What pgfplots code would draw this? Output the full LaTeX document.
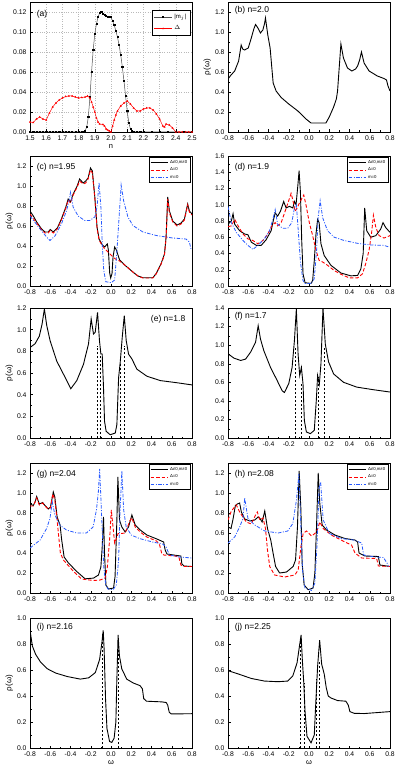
\documentclass[border=0pt]{standalone}
\usepackage{fontspec}
\setmainfont{Liberation Sans}
\usepackage{pgfplots}
\pgfplotsset{compat=1.18}
\definecolor{dred}{RGB}{255,0,0}
\definecolor{dblue}{RGB}{40,90,255}

\tikzset{lab/.style={font=\fontsize{8.5}{9}\selectfont, anchor=north west}}
\pgfplotsset{
  panel/.style={
    width=162pt, height=130pt, scale only axis, anchor=south west,
    xmin=-0.8, xmax=0.8, ymin=0,
    xtick={-0.8,-0.6,-0.4,-0.2,0,0.2,0.4,0.6,0.8},
    minor x tick num=1, minor y tick num=1,
    tick align=inside, xtick pos=bottom, ytick pos=left,
    major tick length=2.5pt, minor tick length=1.5pt,
    axis line style={line width=0.5pt},
    tick style={line width=0.4pt, black},
    ticklabel style={font=\fontsize{6.8}{7}\selectfont},
    /pgf/number format/assume math mode=true,
    xticklabel style={/pgf/number format/fixed, /pgf/number format/fixed zerofill, /pgf/number format/precision=1},
    yticklabel style={/pgf/number format/fixed, /pgf/number format/fixed zerofill, /pgf/number format/precision=1},
    xlabel style={font=\fontsize{7.5}{8}\selectfont, yshift=3pt},
    ylabel style={font=\fontsize{8}{9}\selectfont, yshift=-3pt},
    legend style={font=\fontsize{4.3}{4.8}\selectfont, draw=black, line width=0.4pt,
      at={(0.99,0.99)}, anchor=north east, inner sep=1pt, row sep=-1.2pt,
      cells={anchor=west}},
    legend image code/.code={\draw[#1] (0pt,0pt) -- (17pt,0pt);},
  },
  full/.style={black, line width=0.9pt},
  del/.style={dred, line width=0.9pt, dash pattern=on 3.5pt off 2pt},
  mzero/.style={dblue, line width=0.8pt, dash pattern=on 3.5pt off 1.5pt on 1pt off 1.5pt},
  gap/.style={black, line width=0.9pt, dash pattern=on 2.5pt off 1.5pt},
}

\begin{document}
\begin{tikzpicture}
\useasboundingbox (0,0) rectangle (398pt,-770pt);

% (a)
\begin{axis}[panel, at={(30pt,-132pt)},
  xmin=1.5, xmax=2.5, ymax=0.13,
  xtick={1.5,1.6,1.7,1.8,1.9,2.0,2.1,2.2,2.3,2.4,2.5},
  ytick={0,0.02,0.04,0.06,0.08,0.10,0.12},
  minor x tick num=0, minor y tick num=0,
  yticklabel style={/pgf/number format/precision=2},
  grid=major, grid style={dotted, gray!55, line width=0.3pt},
  xlabel={n},
  legend style={font=\fontsize{6}{7}\selectfont, at={(0.99,0.94)}, row sep=2pt, inner sep=2pt},
  legend image code/.code={\draw[#1] (0pt,0pt) -- (18pt,0pt); \draw[#1, mark repeat=1] plot coordinates {(9pt,0pt)};},
]
\addplot[black!70, line width=0.5pt, mark=square*, mark size=0.6pt, mark options={black}] coordinates {
(1.50,0) (1.52,0) (1.54,0) (1.56,0) (1.58,0) (1.60,0) (1.62,0) (1.64,0) (1.66,0) (1.68,0)
(1.70,0) (1.72,0) (1.74,0) (1.76,0) (1.78,0) (1.80,0) (1.82,0) (1.83,0) (1.84,0.001)
(1.85,0.005) (1.86,0.015) (1.87,0.035) (1.88,0.060) (1.89,0.082) (1.90,0.098) (1.91,0.108)
(1.92,0.115) (1.93,0.119) (1.94,0.120) (1.95,0.118) (1.96,0.117) (1.97,0.116) (1.98,0.115)
(1.99,0.115) (2.00,0.115) (2.01,0.111) (2.02,0.107) (2.03,0.101) (2.04,0.095) (2.05,0.087)
(2.06,0.077) (2.07,0.065) (2.08,0.051) (2.09,0.036) (2.10,0.021) (2.11,0.009) (2.12,0.003)
(2.13,0.001) (2.14,0) (2.16,0) (2.18,0) (2.20,0) (2.25,0) (2.30,0) (2.35,0) (2.40,0) (2.45,0) (2.50,0)
};
\addlegendentry{|m$_j$|}
\addplot[dred, line width=0.5pt, mark=triangle*, mark size=0.7pt] coordinates {
(1.50,0.010) (1.52,0.0095) (1.54,0.013) (1.56,0.015) (1.58,0.013) (1.60,0.012) (1.62,0.019)
(1.64,0.025) (1.66,0.029) (1.68,0.032) (1.70,0.034) (1.72,0.0355) (1.74,0.036) (1.76,0.036)
(1.78,0.035) (1.80,0.034) (1.82,0.0345) (1.84,0.035) (1.855,0.036) (1.87,0.034) (1.88,0.030)
(1.89,0.025) (1.90,0.020) (1.91,0.014) (1.92,0.010) (1.93,0.008) (1.95,0.0075) (1.96,0.006)
(1.97,0.003) (1.98,0.002) (1.99,0.001) (2.00,0.000) (2.01,0.006) (2.02,0.012) (2.03,0.017)
(2.04,0.021) (2.06,0.026) (2.08,0.029) (2.10,0.031) (2.12,0.028) (2.14,0.024) (2.16,0.021)
(2.18,0.021) (2.20,0.023) (2.22,0.024) (2.24,0.024) (2.26,0.022) (2.28,0.018) (2.30,0.013)
(2.32,0.006) (2.33,0.005) (2.34,0.008) (2.36,0.007) (2.38,0.004) (2.40,0.000) (2.42,0)
(2.44,0) (2.46,0) (2.48,0) (2.50,0)
};
\addlegendentry{$\Delta$}
\node[lab] at (rel axis cs:0.02,0.96) {(a)};
\end{axis}

% (b)
\begin{axis}[panel, at={(228pt,-132pt)}, ymax=1.3,
  ytick={0,0.2,0.4,0.6,0.8,1.0,1.2}, ylabel={ρ(ω)}]
\addplot[full] coordinates {
(-0.8,0.53) (-0.77,0.57) (-0.734,0.61) (-0.695,0.71) (-0.67,0.87) (-0.655,0.83) (-0.636,0.82)
(-0.60,0.84) (-0.57,0.94) (-0.545,1.03) (-0.528,1.075) (-0.505,1.04) (-0.48,0.99) (-0.456,1.02)
(-0.44,1.08) (-0.43,1.14) (-0.407,0.97) (-0.384,0.84) (-0.367,0.64) (-0.354,0.49) (-0.325,0.41)
(-0.275,0.345) (-0.2,0.28) (-0.11,0.21) (-0.03,0.13) (0.02,0.09) (0.167,0.09) (0.2,0.15)
(0.243,0.25) (0.27,0.33) (0.282,0.41) (0.298,0.64) (0.315,0.88) (0.34,0.74) (0.38,0.64)
(0.423,0.61) (0.46,0.63) (0.48,0.66) (0.50,0.72) (0.518,0.80) (0.544,0.69) (0.593,0.61)
(0.675,0.56) (0.74,0.535) (0.765,0.52) (0.78,0.46) (0.8,0.41)
};
\node[lab] at (rel axis cs:0.02,0.99) {(b) n=2.0};
\end{axis}

% (c)
\begin{axis}[panel, at={(30pt,-286pt)}, ymax=1.3,
  ytick={0,0.2,0.4,0.6,0.8,1.0,1.2}, ylabel={ρ(ω)}]
\addplot[full] coordinates {
(-0.8,0.75) (-0.767,0.70) (-0.734,0.64) (-0.685,0.57) (-0.652,0.54) (-0.62,0.54) (-0.60,0.565)
(-0.57,0.54) (-0.53,0.58) (-0.49,0.67) (-0.446,0.79) (-0.423,0.87) (-0.40,0.84) (-0.374,0.92)
(-0.334,1.0) (-0.31,1.07) (-0.275,1.03) (-0.25,1.05) (-0.226,1.08) (-0.203,1.18) (-0.184,1.15)
(-0.16,0.89) (-0.138,0.59) (-0.118,0.47) (-0.085,0.41) (-0.062,0.39) (-0.046,0.41) (-0.036,0.42)
(-0.026,0.36) (-0.013,0.13) (-0.003,0.08) (0.01,0.125) (0.02,0.29) (0.036,0.39) (0.053,0.36)
(0.085,0.26) (0.135,0.21) (0.216,0.14) (0.266,0.10) (0.315,0.083) (0.413,0.083) (0.446,0.125)
(0.495,0.225) (0.528,0.32) (0.544,0.49) (0.56,0.89) (0.577,0.75) (0.61,0.65) (0.652,0.61)
(0.692,0.63) (0.725,0.67) (0.757,0.82) (0.774,0.75) (0.8,0.72)
};
\addlegendentry{Δ≠0,m≠0}
\addplot[del] coordinates {
(-0.8,0.72) (-0.734,0.63) (-0.685,0.56) (-0.652,0.53) (-0.62,0.53) (-0.60,0.555) (-0.57,0.53)
(-0.53,0.57) (-0.49,0.66) (-0.446,0.78) (-0.423,0.86) (-0.40,0.83) (-0.374,0.91) (-0.334,0.99)
(-0.31,1.05) (-0.275,1.02) (-0.25,1.03) (-0.226,1.07) (-0.203,1.16) (-0.184,1.13) (-0.16,0.88)
(-0.138,0.58) (-0.118,0.46) (-0.085,0.40) (-0.06,0.37) (-0.03,0.34) (0.0,0.31) (0.03,0.28)
(0.06,0.26) (0.085,0.25) (0.135,0.21) (0.216,0.14) (0.266,0.10) (0.315,0.08) (0.413,0.08)
(0.446,0.12) (0.495,0.22) (0.528,0.31) (0.544,0.48) (0.56,0.87) (0.577,0.73) (0.61,0.64)
(0.652,0.60) (0.692,0.62) (0.725,0.66) (0.757,0.81) (0.774,0.74) (0.8,0.71)
};
\addlegendentry{Δ=0}
\addplot[mzero] coordinates {
(-0.8,0.70) (-0.70,0.57) (-0.636,0.49) (-0.603,0.455) (-0.554,0.50) (-0.49,0.62) (-0.44,0.75)
(-0.415,0.85) (-0.40,0.935) (-0.374,0.79) (-0.325,0.70) (-0.26,0.655) (-0.21,0.655) (-0.16,0.69)
(-0.138,0.79) (-0.118,1.035) (-0.10,0.79) (-0.085,0.39) (-0.072,0.16) (-0.052,0.043) (0.003,0.033)
(0.036,0.06) (0.059,0.36) (0.08,0.69) (0.10,1.01) (0.125,0.85) (0.167,0.69) (0.216,0.605)
(0.315,0.54) (0.446,0.505) (0.61,0.48) (0.74,0.47) (0.774,0.44) (0.79,0.37)
};
\addlegendentry{m=0}
\node[lab] at (rel axis cs:0.02,0.97) {(c) n=1.95};
\end{axis}

% (d)
\begin{axis}[panel, at={(228pt,-286pt)}, ymax=1.6,
  ytick={0,0.2,0.4,0.6,0.8,1.0,1.2,1.4,1.6}]
\addplot[full] coordinates {
(-0.8,0.76) (-0.767,0.80) (-0.75,0.89) (-0.734,0.76) (-0.685,0.68) (-0.636,0.64) (-0.603,0.63)
(-0.57,0.54) (-0.52,0.50) (-0.472,0.50) (-0.423,0.57) (-0.374,0.68) (-0.35,0.82) (-0.334,0.90)
(-0.31,0.86) (-0.282,0.92) (-0.25,1.04) (-0.226,0.96) (-0.193,0.98) (-0.16,0.96) (-0.144,1.04)
(-0.128,1.0) (-0.11,1.24) (-0.098,1.42) (-0.085,1.16) (-0.072,0.56) (-0.059,0.15) (-0.039,0.04)
(0.02,0.032) (0.036,0.07) (0.052,0.31) (0.069,0.64) (0.085,0.82) (0.10,0.78) (0.118,0.52)
(0.15,0.375) (0.216,0.255) (0.315,0.16) (0.413,0.125) (0.48,0.13) (0.512,0.21) (0.535,0.40)
(0.55,0.96) (0.57,0.68) (0.61,0.60) (0.66,0.62) (0.708,0.70) (0.731,0.78) (0.757,0.72) (0.8,0.66)
};
\addlegendentry{Δ≠0,m≠0}
\addplot[del] coordinates {
(-0.8,0.73) (-0.767,0.74) (-0.734,0.82) (-0.70,0.74) (-0.652,0.64) (-0.603,0.58) (-0.554,0.56)
(-0.505,0.52) (-0.456,0.56) (-0.407,0.64) (-0.367,0.74) (-0.334,0.78) (-0.31,0.74) (-0.275,0.78)
(-0.236,0.92) (-0.203,1.04) (-0.177,1.14) (-0.16,1.06) (-0.138,0.92) (-0.118,0.96) (-0.095,1.02)
(-0.052,1.12) (-0.03,1.0) (0.003,0.78) (0.036,0.62) (0.069,0.44) (0.10,0.315) (0.135,0.295)
(0.183,0.255) (0.249,0.19) (0.315,0.145) (0.397,0.10) (0.48,0.10) (0.528,0.15) (0.56,0.275)
(0.593,0.44) (0.617,0.64) (0.636,0.87) (0.66,0.72) (0.692,0.62) (0.74,0.59) (0.8,0.62)
};
\addlegendentry{Δ=0}
\addplot[mzero] coordinates {
(-0.8,0.98) (-0.767,0.78) (-0.718,0.66) (-0.652,0.56) (-0.603,0.50) (-0.554,0.45) (-0.505,0.50)
(-0.44,0.58) (-0.39,0.68) (-0.357,0.82) (-0.334,0.94) (-0.31,0.76) (-0.26,0.71) (-0.21,0.71)
(-0.17,0.78) (-0.144,0.96) (-0.125,1.0) (-0.11,0.75) (-0.085,0.30) (-0.06,0.07) (-0.039,0.03)
(0.02,0.03) (0.052,0.09) (0.075,0.44) (0.09,0.84) (0.11,1.05) (0.135,0.84) (0.183,0.68)
(0.249,0.60) (0.348,0.56) (0.48,0.525) (0.61,0.505) (0.74,0.50) (0.79,0.48)
};
\addlegendentry{m=0}
\node[lab] at (rel axis cs:0.02,0.97) {(d) n=1.9};
\end{axis}

% (e)
\begin{axis}[panel, at={(30pt,-438pt)}, ymax=1.2,
  ytick={0,0.2,0.4,0.6,0.8,1.0,1.2}, ylabel={ρ(ω)}]
\addplot[full] coordinates {
(-0.8,0.835) (-0.75,0.87) (-0.708,0.94) (-0.681,1.05) (-0.658,1.19) (-0.635,1.04) (-0.602,0.90)
(-0.536,0.71) (-0.47,0.59) (-0.437,0.53) (-0.397,0.455) (-0.338,0.53) (-0.272,0.68) (-0.222,0.87)
(-0.196,1.10) (-0.173,0.96) (-0.156,0.975) (-0.133,1.16) (-0.114,0.90) (-0.10,0.775) (-0.087,0.775)
(-0.074,0.465) (-0.064,0.155) (-0.048,0.062) (-0.008,0.03) (0.042,0.046) (0.058,0.124)
(0.075,0.557) (0.091,0.70) (0.111,0.93) (0.131,1.13) (0.15,0.90) (0.173,0.775) (0.206,0.73)
(0.256,0.635) (0.355,0.57) (0.487,0.53) (0.652,0.51) (0.8,0.49)
};
\addplot[gap] coordinates {(-0.133,0) (-0.133,0.85)};
\addplot[gap] coordinates {(-0.10,0) (-0.10,0.77)};
\addplot[gap] coordinates {(0.098,0) (0.098,0.70)};
\addplot[gap] coordinates {(0.134,0) (0.134,0.85)};
\node[lab, anchor=north east] at (rel axis cs:0.98,0.97) {(e) n=1.8};
\end{axis}

% (f)
\begin{axis}[panel, at={(228pt,-438pt)}, ymax=1.4,
  ytick={0,0.2,0.4,0.6,0.8,1.0,1.2,1.4}]
\addplot[full] coordinates {
(-0.8,0.907) (-0.741,0.86) (-0.675,0.835) (-0.626,0.85) (-0.577,0.925) (-0.528,1.03) (-0.502,1.21)
(-0.479,1.065) (-0.446,0.94) (-0.38,0.76) (-0.315,0.62) (-0.266,0.51) (-0.243,0.49) (-0.20,0.585)
(-0.167,0.76) (-0.144,1.05) (-0.125,1.39) (-0.108,0.907) (-0.092,0.674) (-0.075,0.76) (-0.059,0.58)
(-0.046,0.19) (-0.026,0.065) (0.013,0.047) (0.052,0.082) (0.072,0.405) (0.085,0.674) (0.102,0.58)
(0.118,0.80) (0.138,1.40) (0.161,1.01) (0.193,0.82) (0.243,0.69) (0.341,0.60) (0.472,0.548)
(0.636,0.52) (0.8,0.495)
};
\addplot[gap] coordinates {(-0.131,0) (-0.131,0.99)};
\addplot[gap] coordinates {(-0.07,0) (-0.07,0.60)};
\addplot[gap] coordinates {(0.09,0) (0.09,0.66)};
\addplot[gap] coordinates {(0.148,0) (0.148,0.97)};
\node[lab] at (rel axis cs:0.02,0.99) {(f) n=1.7};
\end{axis}

% (g)
\begin{axis}[panel, at={(30pt,-593pt)}, ymax=1.3,
  ytick={0,0.2,0.4,0.6,0.8,1.0,1.2}, ylabel={ρ(ω)}]
\addplot[full] coordinates {
(-0.8,0.89) (-0.767,0.875) (-0.75,0.91) (-0.734,0.965) (-0.708,0.89) (-0.675,0.905) (-0.652,0.875)
(-0.62,0.84) (-0.598,0.86) (-0.57,1.01) (-0.555,0.96) (-0.532,0.76) (-0.503,0.68) (-0.487,0.53)
(-0.463,0.36) (-0.42,0.30) (-0.338,0.215) (-0.256,0.142) (-0.173,0.149) (-0.124,0.18) (-0.10,0.26)
(-0.087,0.46) (-0.074,0.76) (-0.064,0.40) (-0.05,0.08) (-0.025,0.04) (0.025,0.05) (0.04,0.165)
(0.058,0.73) (0.068,1.16) (0.084,0.73) (0.107,0.66) (0.14,0.61) (0.173,0.66) (0.206,0.78)
(0.239,0.68) (0.289,0.63) (0.354,0.58) (0.453,0.54) (0.52,0.51) (0.535,0.43) (0.552,0.39)
(0.652,0.375) (0.69,0.37) (0.70,0.29) (0.72,0.27) (0.8,0.265)
};
\addlegendentry{Δ≠0,m≠0}
\addplot[del] coordinates {
(-0.8,0.87) (-0.767,0.87) (-0.734,0.95) (-0.708,0.88) (-0.675,0.90) (-0.652,0.87) (-0.62,0.84)
(-0.598,0.85) (-0.575,0.99) (-0.555,0.93) (-0.532,0.73) (-0.515,0.55) (-0.50,0.40) (-0.47,0.33)
(-0.37,0.215) (-0.29,0.14) (-0.173,0.125) (-0.107,0.13) (-0.058,0.15) (-0.036,0.26) (-0.013,0.545)
(0.003,0.83) (0.02,0.66) (0.036,0.50) (0.07,0.595) (0.10,0.595) (0.14,0.60) (0.19,0.73)
(0.206,0.75) (0.239,0.66) (0.289,0.61) (0.354,0.56) (0.45,0.52) (0.48,0.48) (0.50,0.40)
(0.52,0.38) (0.63,0.37) (0.67,0.36) (0.69,0.28) (0.72,0.265) (0.8,0.265)
};
\addlegendentry{Δ=0}
\addplot[mzero] coordinates {
(-0.8,0.45) (-0.70,0.53) (-0.636,0.645) (-0.603,0.745) (-0.58,0.91) (-0.554,0.78) (-0.505,0.68)
(-0.44,0.63) (-0.34,0.60) (-0.243,0.60) (-0.177,0.66) (-0.144,0.83) (-0.125,1.01) (-0.112,1.24)
(-0.095,0.83) (-0.072,0.265) (-0.052,0.08) (-0.03,0.04) (0.02,0.033) (0.052,0.08) (0.075,0.33)
(0.09,0.83) (0.107,1.22) (0.125,0.83) (0.15,0.66) (0.20,0.58) (0.28,0.545) (0.41,0.51)
(0.51,0.49) (0.544,0.46) (0.577,0.38) (0.675,0.36) (0.8,0.35)
};
\addlegendentry{m=0}
\node[lab] at (rel axis cs:0.02,0.97) {(g) n=2.04};
\end{axis}

% (h)
\begin{axis}[panel, at={(228pt,-593pt)}, ymax=1.3,
  ytick={0,0.2,0.4,0.6,0.8,1.0,1.2}]
\addplot[full] coordinates {
(-0.8,0.66) (-0.77,0.645) (-0.75,0.74) (-0.727,0.875) (-0.708,0.89) (-0.685,0.90) (-0.668,0.81)
(-0.635,0.74) (-0.585,0.72) (-0.536,0.73) (-0.503,0.76) (-0.487,0.75) (-0.463,0.71) (-0.437,0.82)
(-0.41,0.645) (-0.378,0.53) (-0.355,0.40) (-0.33,0.265) (-0.29,0.20) (-0.222,0.21) (-0.157,0.265)
(-0.133,0.33) (-0.114,0.66) (-0.097,1.22) (-0.08,0.83) (-0.068,0.30) (-0.048,0.08) (-0.008,0.033)
(0.04,0.05) (0.058,0.2) (0.074,0.66) (0.091,1.20) (0.107,0.89) (0.13,0.68) (0.173,0.63)
(0.256,0.58) (0.355,0.545) (0.454,0.53) (0.48,0.51) (0.494,0.40) (0.552,0.37) (0.685,0.365)
(0.70,0.28) (0.8,0.265)
};
\addlegendentry{Δ≠0,m≠0}
\addplot[del] coordinates {
(-0.8,0.73) (-0.767,0.82) (-0.718,0.88) (-0.685,0.81) (-0.62,0.71) (-0.57,0.69) (-0.53,0.775)
(-0.51,0.81) (-0.487,0.73) (-0.454,0.75) (-0.43,0.645) (-0.41,0.43) (-0.388,0.265) (-0.34,0.18)
(-0.24,0.16) (-0.14,0.18) (-0.107,0.23) (-0.08,0.46) (-0.058,0.595) (-0.025,0.62) (0.025,0.57)
(0.058,0.595) (0.08,0.625) (0.107,0.71) (0.14,0.645) (0.22,0.58) (0.355,0.51) (0.42,0.48)
(0.454,0.40) (0.52,0.35) (0.668,0.345) (0.685,0.27) (0.8,0.265)
};
\addlegendentry{Δ=0}
\addplot[mzero] coordinates {
(-0.8,0.50) (-0.734,0.56) (-0.685,0.66) (-0.652,0.745) (-0.635,0.95) (-0.603,0.745) (-0.536,0.68)
(-0.437,0.62) (-0.305,0.60) (-0.21,0.62) (-0.16,0.695) (-0.124,0.93) (-0.10,1.19) (-0.08,0.66)
(-0.064,0.23) (-0.04,0.05) (0.025,0.026) (0.058,0.10) (0.08,0.50) (0.10,1.05) (0.115,1.11)
(0.14,0.73) (0.20,0.595) (0.32,0.545) (0.44,0.53) (0.52,0.50) (0.54,0.38) (0.652,0.36)
(0.735,0.355) (0.77,0.30) (0.785,0.265)
};
\addlegendentry{m=0}
\node[lab] at (rel axis cs:0.02,0.97) {(h) n=2.08};
\end{axis}

% (i)
\begin{axis}[panel, at={(30pt,-748pt)}, ymax=1.0,
  ytick={0,0.2,0.4,0.6,0.8,1.0}, ylabel={ρ(ω)}, xlabel={ω}]
\addplot[full] coordinates {
(-0.8,0.91) (-0.777,0.785) (-0.744,0.72) (-0.695,0.66) (-0.63,0.61) (-0.548,0.577) (-0.433,0.55)
(-0.303,0.53) (-0.22,0.54) (-0.155,0.58) (-0.113,0.68) (-0.09,0.81) (-0.077,0.905) (-0.068,0.76)
(-0.054,0.38) (-0.04,0.15) (-0.014,0.05) (0.008,0.043) (0.031,0.076) (0.048,0.20) (0.057,0.506)
(0.07,0.87) (0.083,0.71) (0.106,0.61) (0.155,0.53) (0.22,0.50) (0.286,0.48) (0.31,0.455)
(0.323,0.38) (0.35,0.36) (0.50,0.355) (0.545,0.35) (0.56,0.33) (0.575,0.275) (0.595,0.262)
(0.8,0.264)
};
\addplot[gap] coordinates {(-0.083,0) (-0.083,0.88)};
\addplot[gap] coordinates {(0.072,0) (0.072,0.85)};
\node[lab] at (rel axis cs:0.02,0.99) {(i) n=2.16};
\end{axis}

% (j)
\begin{axis}[panel, at={(228pt,-748pt)}, ymax=1.0,
  ytick={0,0.2,0.4,0.6,0.8,1.0}, xlabel={ω}]
\addplot[full] coordinates {
(-0.8,0.595) (-0.70,0.57) (-0.57,0.535) (-0.44,0.515) (-0.308,0.51) (-0.21,0.515) (-0.16,0.555)
(-0.118,0.655) (-0.095,0.78) (-0.078,0.87) (-0.066,0.68) (-0.052,0.505) (-0.039,0.28) (-0.02,0.09)
(0.02,0.04) (0.052,0.10) (0.069,0.38) (0.085,0.63) (0.105,0.83) (0.125,0.645) (0.15,0.57)
(0.17,0.465) (0.19,0.40) (0.216,0.385) (0.282,0.365) (0.364,0.36) (0.388,0.33) (0.404,0.28)
(0.446,0.267) (0.544,0.265) (0.8,0.28)
};
\addplot[gap] coordinates {(-0.085,0) (-0.085,0.85)};
\addplot[gap] coordinates {(-0.048,0) (-0.048,0.50)};
\addplot[gap] coordinates {(0.075,0) (0.075,0.53)};
\addplot[gap] coordinates {(0.108,0) (0.108,0.66)};
\node[lab] at (rel axis cs:0.02,0.99) {(j) n=2.25};
\end{axis}
\end{tikzpicture}
\end{document}
